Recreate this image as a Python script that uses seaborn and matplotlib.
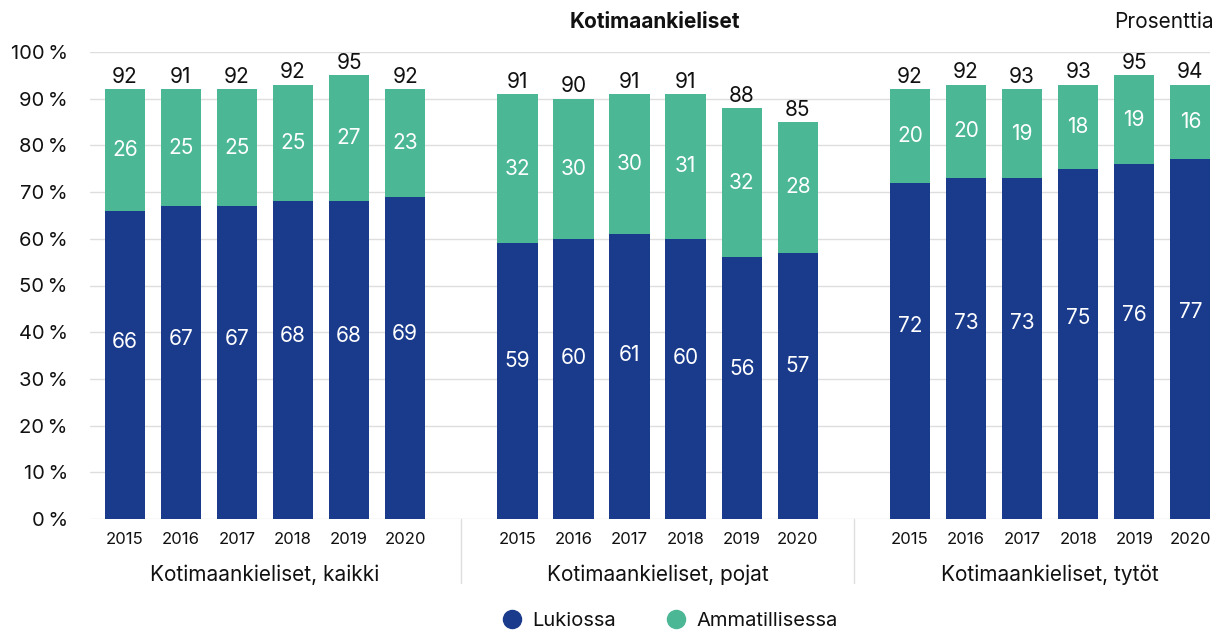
import numpy as np
import pandas as pd
import matplotlib
matplotlib.use("Agg")
import matplotlib.pyplot as plt
import matplotlib.transforms as mtransforms
from matplotlib.lines import Line2D
import seaborn as sns

# ---- data ----
years = ["2015", "2016", "2017", "2018", "2019", "2020"]
groups = ["Kotimaankieliset, kaikki", "Kotimaankieliset, pojat", "Kotimaankieliset, tytöt"]
lukiossa = [[66, 67, 67, 68, 68, 69],
            [59, 60, 61, 60, 56, 57],
            [72, 73, 73, 75, 76, 77]]
ammatillisessa = [[26, 25, 25, 25, 27, 23],
                  [32, 30, 30, 31, 32, 28],
                  [20, 20, 19, 18, 19, 16]]
yhteensa = [[92, 91, 92, 92, 95, 92],
            [91, 90, 91, 91, 88, 85],
            [92, 92, 93, 93, 95, 94]]
series_names = ["Lukiossa", "Ammatillisessa"]
title = "Kotimaankieliset"
unit_label = "Prosenttia"
yticks = [0, 10, 20, 30, 40, 50, 60, 70, 80, 90, 100]

BLUE = "#1a3b8b"
GREEN = "#4bb795"
GRID = "#dedede"
TXT = "#111111"

rows = []
for gi, g in enumerate(groups):
    for yi, y in enumerate(years):
        l = lukiossa[gi][yi]
        a = ammatillisessa[gi][yi]
        rows.append(dict(group=g, year=y, pos=gi * 7 + yi, luk=l, amm=a,
                         top=l + a, total=yhteensa[gi][yi]))
df = pd.DataFrame(rows)

sns.set_theme(style="white")
plt.rcParams['font.family'] = ['Inter', 'DejaVu Sans']

W, H = 1225, 633
fig = plt.figure(figsize=(W / 100, H / 100), dpi=100)
ax = fig.add_axes([90 / W, 1 - 519 / H, (1210 - 90) / W, 467 / H])

sns.barplot(data=df, x="pos", y="top", native_scale=True, color=GREEN,
            saturation=1, width=0.72, errorbar=None, linewidth=0, ax=ax)
sns.barplot(data=df, x="pos", y="luk", native_scale=True, color=BLUE,
            saturation=1, width=0.72, errorbar=None, linewidth=0, ax=ax)

ax.set_xlim(-0.62, 19.35)
ax.set_ylim(0, 100)
ax.set_axisbelow(True)
ax.yaxis.grid(True, color=GRID, lw=1)
ax.xaxis.grid(False)
for s in ax.spines.values():
    s.set_visible(False)

ax.set_yticks(yticks)
ax.set_yticklabels([f"{v}\u2009%" for v in yticks], fontsize=14.5, color=TXT)
ax.set_xticks(df["pos"])
ax.set_xticklabels(df["year"], fontsize=12, color=TXT)
ax.tick_params(axis="y", length=0, pad=16)
ax.tick_params(axis="x", length=0, pad=9)
ax.set_xlabel("")
ax.set_ylabel("")

# value labels
for _, r in df.iterrows():
    ax.text(r.pos, r.luk * 0.575, str(r.luk), ha="center", va="center",
            color="white", fontsize=15)
    ax.text(r.pos, r.luk + r.amm / 2, str(r.amm), ha="center", va="center",
            color="white", fontsize=15)
    ax.annotate(str(r.total), (r.pos, r.top), xytext=(0, 4.5),
                textcoords="offset points", ha="center", va="baseline",
                color=TXT, fontsize=15, annotation_clip=False)

# group labels and separators
trans = mtransforms.blended_transform_factory(ax.transData, ax.transAxes)
for gi, g in enumerate(groups):
    ax.text(gi * 7 + 2.5, -0.12, g, transform=trans, ha="center", va="center",
            fontsize=15, color=TXT)
for xs in [6, 13]:
    ax.add_line(Line2D([xs, xs], [0, -0.137], transform=trans, color=GRID,
                       lw=1, clip_on=False))

fig.text(655 / W, 1 - 22 / H, title, ha="center", va="center",
         fontsize=15, fontweight="bold", color=TXT)
fig.text(1214 / W, 1 - 22 / H, unit_label, ha="right", va="center",
         fontsize=15, color=TXT)

handles = [Line2D([], [], marker="o", ls="", color=c, markersize=13)
           for c in [BLUE, GREEN]]
fig.legend(handles, series_names, loc="center",
           bbox_to_anchor=(665 / W, 1 - 621 / H), ncol=2, frameon=False,
           fontsize=14.5, handletextpad=0.0, columnspacing=2.0,
           labelcolor=TXT)

fig.savefig("out.png", dpi=100)
